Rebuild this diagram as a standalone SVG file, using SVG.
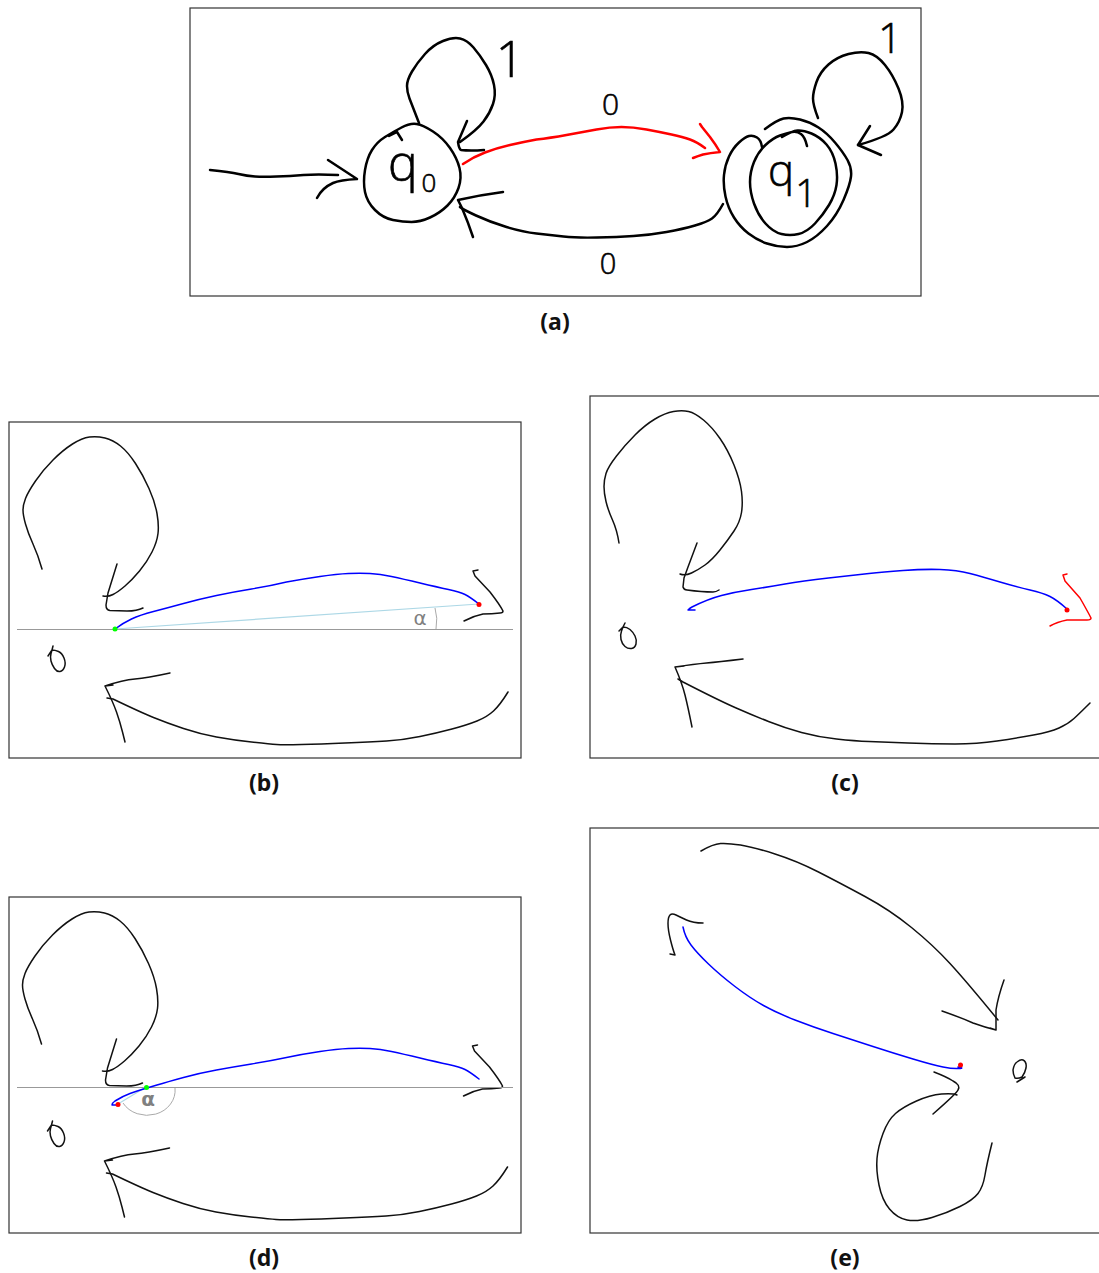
<svg xmlns="http://www.w3.org/2000/svg" width="1099" height="1273" viewBox="0 0 1099 1273">
<style>
.frame{fill:none;stroke:#333;stroke-width:1.2}
.ink{fill:none;stroke:#000;stroke-width:2.5;stroke-linecap:round;stroke-linejoin:round}
.red{stroke:#f00}
.thin{fill:none;stroke:#111;stroke-width:1.5;stroke-linecap:round;stroke-linejoin:round}
.blue{fill:none;stroke:#00f;stroke-width:1.5;stroke-linecap:round;stroke-linejoin:round}
.redthin{fill:none;stroke:#f00;stroke-width:1.5;stroke-linecap:round;stroke-linejoin:round}
.axis{stroke:#999;stroke-width:1;fill:none}
.chord{stroke:#add8e6;stroke-width:1.2;fill:none}
.arc{stroke:#aaa;stroke-width:1;fill:none}
.cap{font-family:"Noto Sans","Liberation Sans",sans-serif;font-weight:700;font-size:23px;text-anchor:middle;fill:#111}
.hand{font-family:"Open Sans","Liberation Sans",sans-serif;font-weight:300;fill:#000;stroke:#000;stroke-width:0.6;text-anchor:middle}
.alpha{font-family:"DejaVu Sans",sans-serif;fill:#808080;text-anchor:middle}
</style>
<defs>
<g id="strokes-bd">
<path class="thin" d="M42 569 Q38 555 33 544 Q28 533 25.5 524 Q23 515 23 510 Q23 505 25.5 498.5 Q28 492 35.5 481 Q43 470 53 460 Q63 450 72.5 444 Q82 438 89.5 437 Q97 436 105 438 Q113 440 120.5 446 Q128 452 135.5 463.5 Q143 475 149 488.5 Q155 502 157 513.5 Q159 525 158 533.5 Q157 542 152 552 Q147 562 139.5 571 Q132 580 125 586 Q118 592 113 594.5 Q108 597 103 596"/>
<path class="thin" d="M117 564 L108 593 L106 605 Q106 610 110 610.5 L127 611 Q137 611 143 608"/>
<path class="thin" d="M53 646 L52 650 L48 656 M52 650 Q55 650 58.5 651.5 Q62 653 64 658 Q66 663 64.5 667 Q63 671 60 671.5 Q57 672 54.5 668.5 Q52 665 51 661 Q50 657 51 653.5 Q52 650 52 650"/>
<path class="thin" d="M170 673 Q147 678 135 679 Q123 680 105 686 L113 685 M105 686 Q113 702 116.5 712 Q120 722 122.5 732 L125 742"/>
<path class="thin" d="M107 698 L113 699 Q140 712 153.5 717.5 Q167 723 183.5 728.5 Q200 734 216.5 737 Q233 740 251.5 742 Q270 744 276.5 744.5 Q283 745 301.5 744.5 Q320 744 345 743 Q370 742 386.5 741 Q403 740 420 736.5 Q437 733 452 729 Q467 725 477 721 Q487 717 493.5 711 Q500 705 508 692"/>
<path class="thin" d="M478 570 L473 571 L475 576 L490 592 Q500 605 503 611 Q503 613 500 613 Q492 614 483 614 Q473 616 464 621"/>
</g>
</defs>

<g id="panel-a">
<rect class="frame" x="190" y="8" width="731" height="288"/>
<g id="q0">
<path class="ink" d="M385 137 Q393 132 401.5 127.5 Q410 123 416.5 124 Q423 125 433 131.5 Q443 138 450 148 Q457 158 459.5 168 Q462 178 458.5 188 Q455 198 447.5 205.5 Q440 213 430 217.5 Q420 222 411.5 222 Q403 222 393 220 Q383 218 375 210 Q367 202 365 192 Q363 182 365 170 Q367 158 372 150 Q377 142 385 137"/>
<path class="ink" d="M389 136 L397 132 L402 140"/>
<text class="hand" font-size="50" x="403" y="181">q</text>
<text class="hand" font-size="26" x="429" y="192">0</text>
</g>
<g id="q1">
<path class="ink" d="M762 147 Q761 140 757 137.5 Q753 135 749 136 Q745 137 739 142.5 Q733 148 729 156.5 Q725 165 724 175 Q723 185 725.5 196.5 Q728 208 734 217.5 Q740 227 748.5 233.5 Q757 240 767 243.5 Q777 247 787 247 Q797 247 807 242 Q817 237 827 226 Q837 215 843.5 200 Q850 185 851 176.5 Q852 168 847.5 160 Q843 152 835 142.5 Q827 133 818.5 127.5 Q810 122 800 119.5 Q790 117 783.5 118.5 Q777 120 765 129"/>
<path class="ink" d="M807 146 Q805 137 801 134 Q797 131 792 132 Q787 133 780 135.5 Q773 138 765.5 145 Q758 152 754 162 Q750 172 750 182 Q750 192 754 203.5 Q758 215 765.5 223.5 Q773 232 781.5 234 Q790 236 798.5 234 Q807 232 815 223.5 Q823 215 829 205 Q835 195 836.5 185 Q838 175 835.5 163.5 Q833 152 826.5 144.5 Q820 137 811.5 133.5 Q803 130 797.5 130.5 Q792 131 782 137"/>
<text class="hand" font-size="44" x="781" y="186">q</text>
<text class="hand" font-size="38" x="806" y="207">1</text>
</g>
<g id="connectors-a">
<path class="ink" d="M210 170 Q230 172 238.5 174 Q247 176 255 176.5 Q263 177 276.5 176.5 Q290 176 303.5 175 Q317 174 338 175"/>
<path class="ink" d="M328 160 L357 179 Q340 180 333 183 Q322 188 317 198"/>
<path class="ink" d="M419 123 Q412 105 409.5 98.5 Q407 92 407 86 Q407 80 412 71.5 Q417 63 425 54 Q433 45 443 41 Q453 37 460 38.5 Q467 40 473.5 47.5 Q480 55 486 65 Q492 75 494 85 Q496 95 493 104 Q490 113 483.5 121.5 Q477 130 460 142"/>
<path class="ink" d="M467 121 L458 142 Q459 149 461 150 Q470 151 484 150"/>
<path class="ink red" d="M463 164 Q473 157 485 152.5 Q497 148 510 145 Q523 142 536.5 139.5 Q550 138 566.5 135 Q583 132 596.5 129.5 Q610 127 621.5 127 Q633 127 646.5 129.5 Q660 132 671.5 134.5 Q683 137 690 139.5 Q697 142 705 148"/>
<path class="ink red" d="M700 124 L702 127 L710 137 Q716 145 720 152 Q710 153 703 154.5 Q698 156 693 158"/>
<path class="ink" d="M723 204 Q717 215 712 218.5 Q707 222 695 225.5 Q683 229 666.5 232 Q650 235 633.5 236 Q617 237 597 237.5 Q577 238 563.5 236.5 Q550 235 536.5 233.5 Q523 232 506.5 227 Q490 222 476 215.5 Q462 209 460 207"/>
<path class="ink" d="M503 192 Q480 195 458 200 L462 208 Q468 222 473 237"/>
<path class="ink" d="M818 118 Q813 105 813 98.5 Q813 92 816.5 82 Q820 72 828.5 64.5 Q837 57 848.5 54 Q860 51 868.5 53 Q877 55 885 65 Q893 75 898.5 88.5 Q904 102 902 112 Q900 122 893.5 129.5 Q887 137 858 145"/>
<path class="ink" d="M870 126 L858 145 L881 155"/>
</g>
<text class="hand" font-size="50" x="510" y="77">1</text>
<text class="hand" font-size="42" x="890" y="53">1</text>
<text class="hand" font-size="30" x="610.5" y="115">0</text>
<text class="hand" font-size="29" x="608" y="274">0</text>
<text class="cap" x="555" y="330">(a)</text>
</g>

<g id="panel-b">
<rect class="frame" x="9" y="422" width="512" height="336"/>
<use href="#strokes-bd"/>
<path class="axis" d="M17 629.5 H513"/>
<path class="chord" d="M115 629 L479 604"/>
<path class="arc" d="M435 608 Q438 618 436 629"/>
<path class="blue" d="M115 629 Q123 623 131.5 619 Q140 615 153.5 611.5 Q167 608 183.5 603.5 Q200 599 216.5 595.5 Q233 592 251.5 589 Q270 586 286.5 582 Q303 579 320 576.5 Q337 574 348.5 573.5 Q360 573 370 573.5 Q380 574 391.5 576.5 Q403 579 420 583 Q437 587 448.5 589.5 Q460 592 465 594.5 Q470 597 479 604"/>
<circle cx="479" cy="604.5" r="2.5" fill="#f00"/>
<circle cx="115" cy="629" r="2.5" fill="#0f0"/>
<text class="alpha" font-size="20" x="420" y="625">α</text>
<text class="cap" x="264" y="791">(b)</text>
</g>

<g id="panel-c">
<rect class="frame" x="590" y="396" width="520" height="362"/>
<path class="thin" d="M619 543 Q617 530 612.5 520 Q608 510 606 501.5 Q604 493 604 486.5 Q604 480 606 473.5 Q608 467 616.5 456 Q625 445 635 435 Q645 425 655 419 Q665 413 673.5 411.5 Q682 410 688.5 411.5 Q695 413 703.5 420 Q712 427 720 438.5 Q728 450 734 465 Q740 480 741.5 491.5 Q743 503 741.5 512.5 Q740 522 734 531 Q728 540 720 550 Q712 560 705 565 Q698 570 691.5 573 Q685 576 680 574"/>
<path class="thin" d="M697 543 L688 567 L684 578 L683 587 Q684 590 687 590 Q702 592 713 592 Q716 592 719 590"/>
<path class="thin" d="M625 623 L623 627 L619 631 M623 627 Q627 627 630 629.5 Q633 632 635 636 Q637 640 636 644 Q635 648 631.5 648.5 Q628 649 625 646.5 Q622 644 621 639.5 Q620 635 621.5 631 Q623 627 623 627"/>
<path class="thin" d="M743 659 Q718 662 706.5 663 Q695 664 675 667 L684 666 M675 667 Q682 683 685 695 Q688 707 692 727"/>
<path class="thin" d="M678 679 L683 682 Q718 700 735 707.5 Q752 715 768.5 721.5 Q785 728 801.5 732.5 Q818 737 836.5 739 Q855 741 869 741.5 Q883 742 908 743 Q933 744 955 744 Q977 744 997 741 Q1017 738 1033.5 735 Q1050 732 1059 728 Q1068 724 1074 718.5 Q1080 713 1090 703"/>
<path class="blue" d="M695 610 L688 610 Q690 608 692 607 Q708 599 721.5 595.5 Q735 592 751.5 589.5 Q768 587 785 584 Q802 581 828.5 578 Q855 575 869 573.5 Q883 572 903 570.5 Q923 569 940 569.5 Q957 570 970 573.5 Q983 577 1000 582 Q1017 587 1030 590 Q1043 593 1050 596.5 Q1057 600 1067 609"/>
<path class="redthin" d="M1067 574 L1063 575 L1065 581 L1080 598 Q1088 612 1091 618 Q1091 620 1087 620 Q1077 620 1067 620 Q1057 622 1050 626"/>
<circle cx="1067" cy="610" r="2.5" fill="#f00"/>
<text class="cap" x="845" y="791">(c)</text>
</g>

<g id="panel-d">
<rect class="frame" x="9" y="897" width="512" height="336"/>
<use href="#strokes-bd" x="-0.5" y="475"/>
<path class="axis" d="M17 1087.5 H513"/>
<path class="chord" d="M118 1104 L146 1087"/>
<path class="arc" d="M123 1103 A28 25 0 0 0 175 1088"/>
<path class="blue" d="M118 1105 L112 1105 Q112 1103 115 1101 Q123 1096 130 1093.5 Q137 1091 142 1089.5 Q147 1088 157 1085 Q167 1082 183.5 1077.5 Q200 1073 216.5 1070 Q233 1067 251.5 1064 Q270 1061 286.5 1057.5 Q303 1054 320 1051.5 Q337 1049 348.5 1048.5 Q360 1048 370 1048.5 Q380 1049 391.5 1051.5 Q403 1054 420 1058 Q437 1062 448.5 1064.5 Q460 1067 465 1069.5 Q470 1072 479 1079"/>
<circle cx="118" cy="1104.5" r="2.5" fill="#f00"/>
<circle cx="146.5" cy="1087.5" r="2.5" fill="#0f0"/>
<text class="alpha" font-size="20" font-weight="700" x="148" y="1106">α</text>
<text class="cap" x="264" y="1266">(d)</text>
</g>

<g id="panel-e">
<rect class="frame" x="590" y="828" width="520" height="405"/>
<path class="thin" d="M701 851 Q713 844 720.5 843.5 Q728 843 740.5 845 Q753 847 775 854 Q797 861 818.5 872 Q840 883 865 896.5 Q890 910 911.5 927.5 Q933 945 950 963.5 Q967 982 998 1020"/>
<path class="thin" d="M1004 980 Q998 997 996 1010 L996 1030 Q984 1027 973 1023 Q962 1018 942 1011 M996 1030 L990 1028"/>
<path class="thin" d="M703 923 Q693 923 686.5 920 Q680 917 676 915 Q672 913 670 915 Q668 917 668 923.5 Q668 930 670.5 940 Q673 950 675 955 L670 954"/>
<path class="thin" d="M934 1072 Q947 1077 953 1081 Q961 1085 958 1090 Q957 1093 933 1114"/>
<path class="thin" d="M957 1095 Q953 1093 941.5 1094 Q930 1095 916.5 1101 Q903 1107 895.5 1113.5 Q888 1120 883 1133.5 Q878 1147 877 1158.5 Q876 1170 879 1185 Q882 1200 889.5 1209 Q897 1218 907 1220 Q917 1222 932 1217.5 Q947 1213 960 1206.5 Q973 1200 978 1193.5 Q983 1187 985 1175 Q987 1163 992 1143"/>
<path class="thin" d="M1017 1082 L1025 1077 M1015 1078 Q1013 1074 1013 1070 Q1014 1064 1017 1062 Q1021 1059 1023 1060 Q1027 1062 1026 1068 Q1025 1073 1022 1077 Q1018 1079 1015 1078"/>
<path class="blue" d="M683 927 Q685 937 691 945 Q697 953 708.5 964 Q720 975 735 986.5 Q750 998 763.5 1005.5 Q777 1013 795 1020 Q813 1027 833 1033.5 Q853 1040 873 1046.5 Q893 1053 913 1059 Q933 1065 943 1067 Q953 1069 959 1068.5 Q965 1068 958 1067"/>
<circle cx="960.5" cy="1065" r="2.5" fill="#f00"/>
<text class="cap" x="845" y="1266">(e)</text>
</g>
</svg>
